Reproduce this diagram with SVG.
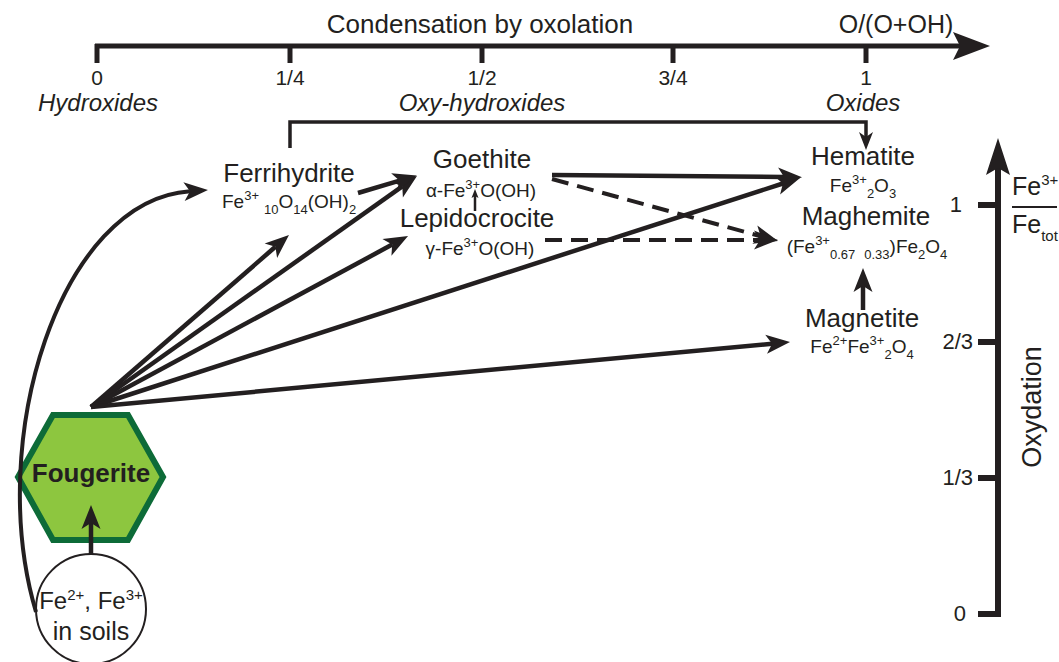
<svg xmlns="http://www.w3.org/2000/svg" width="1059" height="662" viewBox="0 0 1059 662">
<style>
text{font-family:"Liberation Sans",Arial,sans-serif;fill:#231f20}
.n{font-size:26px;text-anchor:middle}
.f{font-size:19px}
.fm{font-size:19px;text-anchor:middle}
.s{font-size:13px}
.it{font-size:24px;font-style:italic;text-anchor:middle}
.tk{font-size:21px;text-anchor:middle}
.rk{font-size:22px;text-anchor:end}
.c{fill:none;stroke:#231f20;stroke-width:4.5}
.d{fill:none;stroke:#231f20;stroke-width:4;stroke-dasharray:17 9}
.ax{fill:none;stroke:#231f20}
</style>
<defs>
<marker id="ah" markerUnits="userSpaceOnUse" markerWidth="30" markerHeight="24" viewBox="0 -12 30 24" refX="6" refY="0" orient="auto" overflow="visible">
<path d="M0,-9.5 L24,0 L0,9.5 L6,0 Z" fill="#231f20"/>
</marker>
<marker id="am" markerUnits="userSpaceOnUse" markerWidth="24" markerHeight="20" viewBox="0 -10 24 20" refX="5" refY="0" orient="auto" overflow="visible">
<path d="M0,-7 L18,0 L0,7 L5,0 Z" fill="#231f20"/>
</marker>
<marker id="as" markerUnits="userSpaceOnUse" markerWidth="12" markerHeight="10" viewBox="0 -5 12 10" refX="2" refY="0" orient="auto" overflow="visible">
<path d="M0,-3.5 L9,0 L0,3.5 L2,0 Z" fill="#231f20"/>
</marker>
</defs>

<g id="top-axis">
<line class="ax" x1="95" y1="46" x2="962" y2="46" stroke-width="5"/>
<polygon points="953,32 990,46 953,60 960,46" fill="#231f20"/>
<g stroke="#231f20" stroke-width="5">
<line x1="97" y1="44" x2="97" y2="63"/>
<line x1="290" y1="44" x2="290" y2="63"/>
<line x1="482" y1="44" x2="482" y2="63"/>
<line x1="673" y1="44" x2="673" y2="63"/>
<line x1="866" y1="44" x2="866" y2="63"/>
</g>
<text x="480" y="33" class="n">Condensation by oxolation</text>
<text x="896" y="33" class="n" style="font-size:25px">O/(O+OH)</text>
<text x="97" y="85" class="tk">0</text>
<text x="290" y="85" class="tk">1/4</text>
<text x="482" y="85" class="tk">1/2</text>
<text x="673" y="85" class="tk">3/4</text>
<text x="866" y="85" class="tk">1</text>
<text x="98" y="111" class="it">Hydroxides</text>
<text x="482" y="111" class="it">Oxy-hydroxides</text>
<text x="863" y="111" class="it">Oxides</text>
</g>

<g id="right-axis">
<line class="ax" x1="998" y1="617" x2="998" y2="165" stroke-width="6"/>
<polygon points="986,175 998,138 1010,175 998,168" fill="#231f20"/>
<g stroke="#231f20" stroke-width="6">
<line x1="978" y1="205" x2="998" y2="205"/>
<line x1="978" y1="342" x2="998" y2="342"/>
<line x1="978" y1="478" x2="998" y2="478"/>
<line x1="978" y1="614" x2="1001" y2="614"/>
</g>
<text x="962" y="212" class="rk">1</text>
<text x="973" y="349" class="rk">2/3</text>
<text x="973" y="485" class="rk">1/3</text>
<text x="966" y="621" class="rk">0</text>
<text x="1012" y="195" style="font-size:25px">Fe<tspan style="font-size:15px" dy="-10">3+</tspan></text>
<line x1="1012" y1="207" x2="1057" y2="207" stroke="#231f20" stroke-width="2"/>
<text x="1012" y="233" style="font-size:25px">Fe<tspan style="font-size:15px" dy="8">tot</tspan></text>
<text transform="translate(1041,407) rotate(-90)" class="n" style="font-size:27px">Oxydation</text>
</g>

<g id="ferrihydrite">
<text x="289" y="182" class="n">Ferrihydrite</text>
<text x="222" y="208" class="f">Fe<tspan class="s" dy="-8">3+</tspan><tspan class="s" dx="5" dy="14">10</tspan><tspan dy="-6">O</tspan><tspan class="s" dy="6">14</tspan><tspan dy="-6">(OH)</tspan><tspan class="s" dy="6">2</tspan></text>
</g>
<g id="goethite">
<text x="482" y="168" class="n">Goethite</text>
<text x="481" y="197" class="fm">α-Fe<tspan class="s" dy="-8">3+</tspan><tspan dy="8">O(OH)</tspan></text>
</g>
<g id="lepidocrocite">
<text x="477" y="227" class="n">Lepidocrocite</text>
<text x="480" y="255" class="fm">γ-Fe<tspan class="s" dy="-8">3+</tspan><tspan dy="8">O(OH)</tspan></text>
</g>
<g id="hematite">
<text x="863" y="165" class="n">Hematite</text>
<text x="863" y="192" class="fm">Fe<tspan class="s" dy="-8">3+</tspan><tspan class="s" dy="14">2</tspan><tspan dy="-6">O</tspan><tspan class="s" dy="6">3</tspan></text>
</g>
<g id="maghemite">
<text x="866" y="225" class="n">Maghemite</text>
<text x="867" y="253" class="fm">(Fe<tspan class="s" dy="-8">3+</tspan><tspan class="s" dy="14">0.67</tspan><tspan class="s" dx="9">0.33</tspan><tspan dy="-6">)Fe</tspan><tspan class="s" dy="6">2</tspan><tspan dy="-6">O</tspan><tspan class="s" dy="6">4</tspan></text>
</g>
<g id="magnetite">
<text x="862" y="327" class="n">Magnetite</text>
<text x="862" y="353" class="fm">Fe<tspan class="s" dy="-8">2+</tspan><tspan dy="8">Fe</tspan><tspan class="s" dy="-8">3+</tspan><tspan class="s" dy="14">2</tspan><tspan dy="-6">O</tspan><tspan class="s" dy="6">4</tspan></text>
</g>
<g id="fougerite">
<polygon points="53,415 128,415 163,477 128,540 53,540 18,477" fill="#8dc63f" stroke="#0d6b38" stroke-width="6"/>
<text x="91" y="482" class="n" style="font-weight:bold">Fougerite</text>
</g>
<g id="soils">
<circle cx="91" cy="609" r="55" fill="#ffffff" stroke="#231f20" stroke-width="2"/>
<text x="91" y="609" class="n" style="font-size:24px">Fe<tspan style="font-size:15px" dy="-9">2+</tspan><tspan dy="9">, Fe</tspan><tspan style="font-size:15px" dy="-9">3+</tspan></text>
<text x="91" y="640" class="n" style="font-size:25px">in soils</text>
</g>

<g id="connectors">
<polyline points="290,148 290,122 866,122 866,137" fill="none" stroke="#231f20" stroke-width="3.5" marker-end="url(#am)"/>
<path class="c" d="M91,407 L275.4,246.8" marker-end="url(#ah)"/>
<path class="c" d="M91,407 L402.3,186.4" marker-end="url(#ah)"/>
<path class="c" d="M358,193 L399.6,180.7" marker-end="url(#ah)"/>
<path class="c" d="M91,407 L392.2,244.6" marker-end="url(#ah)"/>
<path class="c" d="M91,407 L782.9,183.5" marker-end="url(#ah)"/>
<path class="c" d="M91,407 L772.1,343.7" marker-end="url(#ah)"/>
<path class="c" d="M552,175 L784,177" marker-end="url(#ah)"/>
<path class="d" d="M552,179 L760.6,236.2" marker-end="url(#ah)"/>
<path class="d" d="M545,240 L760,240" marker-end="url(#ah)"/>
<path d="M475,211 L475,196" fill="none" stroke="#231f20" stroke-width="2.5" marker-end="url(#as)"/>
<path class="c" d="M863,310 L863,286" marker-end="url(#ah)"/>
<path class="c" d="M91,554 L91,523" marker-end="url(#ah)"/>
<path d="M36,612 C-15,440 60,200 190,191.2" fill="none" stroke="#231f20" stroke-width="4" marker-end="url(#ah)"/>
</g>
</svg>
